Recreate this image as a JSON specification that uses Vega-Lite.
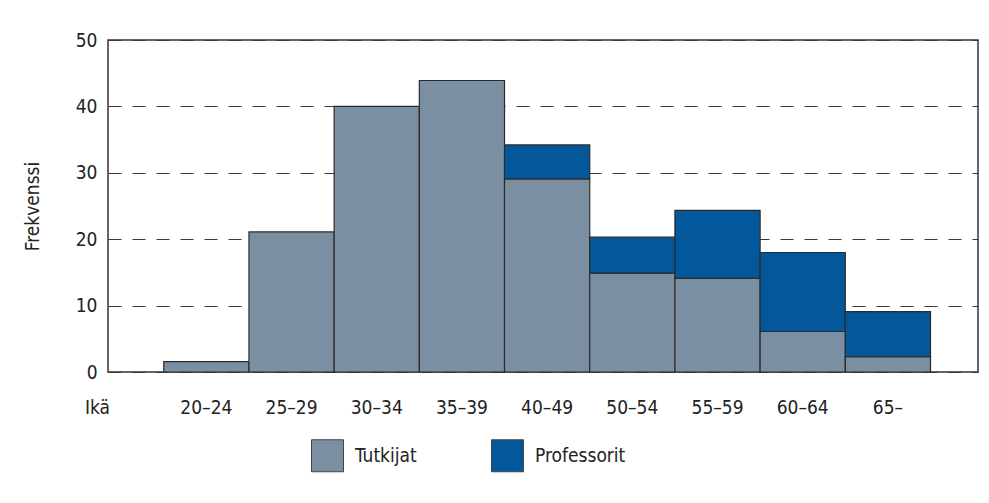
{
  "$schema": "https://vega.github.io/schema/vega-lite/v6.json",
  "width": 870,
  "height": 332,
  "autosize": {"type": "none"},
  "padding": {"left": 108, "top": 40, "right": 11, "bottom": 131},
  "background": "white",
  "config": {
    "font": "DejaVu Sans Condensed, sans-serif",
    "view": {"stroke": "#333333", "strokeWidth": 1.5},
    "axis": {"labelFont": "DejaVu Sans Condensed, sans-serif", "titleFont": "DejaVu Sans Condensed, sans-serif"}
  },
  "data": {
    "values": [
      {"ika": "20–24", "ryhma": "Tutkijat", "n": 1.55},
      {"ika": "25–29", "ryhma": "Tutkijat", "n": 21.1},
      {"ika": "30–34", "ryhma": "Tutkijat", "n": 40},
      {"ika": "35–39", "ryhma": "Tutkijat", "n": 43.9},
      {"ika": "40–49", "ryhma": "Tutkijat", "n": 29.1},
      {"ika": "40–49", "ryhma": "Professorit", "n": 5.1},
      {"ika": "50–54", "ryhma": "Tutkijat", "n": 14.9},
      {"ika": "50–54", "ryhma": "Professorit", "n": 5.4},
      {"ika": "55–59", "ryhma": "Tutkijat", "n": 14.1},
      {"ika": "55–59", "ryhma": "Professorit", "n": 10.25},
      {"ika": "60–64", "ryhma": "Tutkijat", "n": 6.1},
      {"ika": "60–64", "ryhma": "Professorit", "n": 11.9},
      {"ika": "65–", "ryhma": "Tutkijat", "n": 2.3},
      {"ika": "65–", "ryhma": "Professorit", "n": 6.8}
    ]
  },
  "mark": {"type": "bar", "stroke": "#2b2b2b", "strokeWidth": 1.2, "opacity": 1},
  "encoding": {
    "x": {
      "field": "ika",
      "type": "nominal",
      "sort": null,
      "scale": {"paddingInner": 0, "paddingOuter": 0.606, "align": 0.54},
      "axis": {
        "title": "Ikä",
        "titleX": -11,
        "titleY": 41,
        "titleAlign": "center",
        "titleBaseline": "alphabetic",
        "titleFontSize": 19,
        "titleFontWeight": "normal",
        "titleColor": "#222222",
        "labelAngle": 0,
        "labelFontSize": 19,
        "labelColor": "#222222",
        "labelBaseline": "alphabetic",
        "labelPadding": 41,
        "ticks": false,
        "tickSize": 0,
        "domain": false,
        "grid": false
      }
    },
    "y": {
      "field": "n",
      "type": "quantitative",
      "stack": "zero",
      "scale": {"domain": [0, 50], "nice": false},
      "axis": {
        "title": "Frekvenssi",
        "values": [0, 10, 20, 30, 40, 50],
        "titleX": -76,
        "titleY": 166,
        "titleAngle": -90,
        "titleAlign": "center",
        "titleBaseline": "middle",
        "titleFontSize": 19,
        "titleFontWeight": "normal",
        "titleColor": "#222222",
        "labelFontSize": 19,
        "labelColor": "#222222",
        "labelPadding": 11,
        "ticks": false,
        "tickSize": 0,
        "domain": false,
        "grid": true,
        "gridColor": "#3a3a3a",
        "gridWidth": 1.2,
        "gridDash": [13, 11],
        "zindex": 0
      }
    },
    "color": {
      "field": "ryhma",
      "type": "nominal",
      "sort": ["Tutkijat", "Professorit"],
      "scale": {"domain": ["Tutkijat", "Professorit"], "range": ["#7b8fa3", "#03589b"]},
      "legend": {
        "title": null,
        "orient": "none",
        "direction": "horizontal",
        "legendX": 203,
        "legendY": 399,
        "padding": 0,
        "symbolType": "square",
        "symbolSize": 1024,
        "symbolStrokeColor": "#444444",
        "symbolStrokeWidth": 1,
        "symbolOpacity": 1,
        "labelOffset": 11,
        "labelFontSize": 19,
        "labelColor": "#222222",
        "labelFont": "DejaVu Sans Condensed, sans-serif",
        "columnPadding": 72
      }
    }
  }
}
